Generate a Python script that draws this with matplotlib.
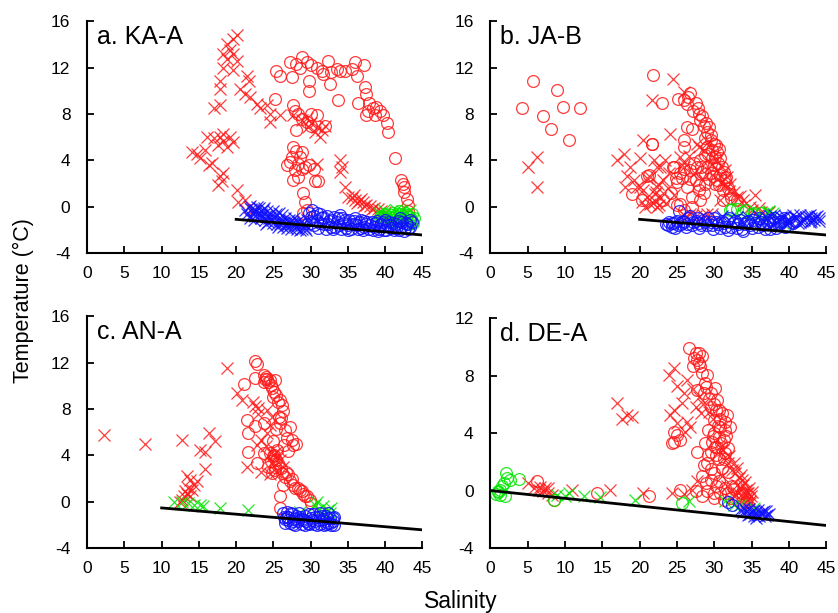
import numpy as np
import matplotlib.pyplot as plt

plt.rcParams['font.family'] = ['Liberation Sans', 'DejaVu Sans']
plt.rcParams['axes.unicode_minus'] = False

# (salinity, temperature) pairs per station and sample type
a_red_o = [(25.4, 11.75), (25.9, 11.3), (25.2, 9.3), (27.2, 12.5), (27.5, 11.2), (28.1, 12.3),
           (28.6, 12.0), (28.8, 12.9), (29.5, 12.5), (30.1, 12.2), (29.8, 10.9), (29.8, 10.0),
           (30.8, 12.0), (31.5, 11.75), (31.7, 11.5), (32.4, 12.6), (32.8, 11.6), (32.6, 10.6),
           (33.5, 11.9), (33.9, 11.75), (34.6, 11.75), (35.5, 11.9), (35.9, 12.5), (36.2, 11.3),
           (37.1, 12.2), (33.7, 9.2), (36.4, 9.0), (37.3, 10.3), (37.5, 9.75), (37.9, 9.0),
           (38.4, 8.5), (37.7, 8.3), (38.8, 8.6), (39.3, 8.3), (39.7, 7.9), (37.5, 7.9),
           (40.2, 7.2), (40.4, 6.45), (38.6, 7.9), (41.3, 4.2), (42.2, 2.3), (42.4, 2.0),
           (42.6, 1.3), (42.9, 0.7), (43.1, 0.15), (43.1, -0.4), (42.6, 1.7),
           (27.7, 8.75), (27.9, 8.3), (28.3, 8.0), (28.8, 7.6), (28.1, 6.6), (29.5, 7.3),
           (30.1, 8.0), (30.8, 7.9), (31.9, 7.0), (30.1, 7.0),
           (26.8, 3.6), (27.5, 4.3), (27.7, 5.2), (28.1, 4.8), (28.6, 4.3), (27.9, 3.2),
           (28.3, 3.7), (28.8, 3.3), (28.3, 2.6), (27.7, 2.3), (29.2, 3.4), (29.8, 3.6),
           (30.6, 2.2), (31.0, 2.2), (30.4, 3.3), (28.8, 4.7), (27.2, 3.9), (29.0, 1.2),
           (29.2, 0.45), (29.0, -0.55), (29.5, -0.3)]
a_red_x = [(20.1, 14.8), (19.6, 14.5), (18.75, 14.05), (19.2, 13.5), (18.3, 13.2), (19.6, 13.2),
           (18.75, 12.8), (20.1, 12.6), (18.3, 12.0), (19.6, 11.8), (21.4, 11.3), (21.7, 10.9),
           (17.9, 10.9), (17.9, 10.2), (20.5, 10.2), (21.2, 9.75), (21.9, 9.5), (22.8, 8.9),
           (23.2, 8.5), (24.1, 8.8), (24.6, 8.0), (25.9, 7.9), (24.6, 7.3), (17.0, 8.5),
           (17.9, 8.8), (16.1, 6.0), (17.0, 5.9), (17.9, 6.0), (18.3, 5.7), (18.75, 5.2),
           (19.6, 5.6), (17.6, 5.3), (19.2, 6.0), (18.3, 6.3), (14.1, 4.7), (14.7, 4.6),
           (15.2, 4.2), (15.8, 4.9), (16.3, 3.6), (16.7, 3.75), (17.9, 2.7), (18.1, 2.2),
           (17.6, 1.9), (18.3, 2.9), (20.1, 1.45), (20.3, 0.45), (21.2, 0.6), (21.7, 0.0),
           (22.3, -0.3), (27.7, 7.9), (28.8, 7.5), (29.5, 7.7), (30.1, 7.2), (30.8, 6.9),
           (31.5, 6.6), (31.25, 6.0), (31.9, 7.0), (29.7, 6.9), (30.6, 6.5), (30.8, 3.7),
           (33.9, 4.0), (34.2, 3.45), (33.9, 3.0), (34.6, 1.7), (35.0, 0.87), (35.5, 0.8),
           (35.8, 1.0), (36.0, 0.6), (36.2, 0.3), (36.5, 0.5), (36.8, 0.7), (37.0, 0.4),
           (37.2, 0.1), (37.5, 0.2), (38.0, 0.1), (38.2, -0.2), (38.5, -0.1), (39.0, -0.2),
           (39.5, -0.35), (40.0, -0.45)]
a_green_o = [(39.5, -0.8), (40.0, -0.6), (40.5, -0.9), (41.0, -0.5), (41.5, -0.8), (42.0, -0.6),
             (42.5, -1.0), (43.0, -0.7), (43.5, -1.1), (43.8, -1.4), (40.2, -1.2), (41.2, -1.1),
             (42.2, -1.3), (43.2, -1.5), (39.8, -1.0), (41.8, -0.4), (43.6, -0.6), (39.3, -0.9),
             (40.8, -0.7), (41.6, -1.2), (42.4, -0.8), (43.4, -0.9), (43.9, -1.0), (40.9, -1.3),
             (42.7, -0.5)]
a_green_x = [(39.2, -0.5), (39.8, -0.3), (40.6, -0.5), (41.4, -0.3), (42.3, -0.4), (40.3, -0.8),
             (41.8, -0.9), (42.8, -1.2), (43.3, -0.3), (40.0, -0.9), (41.0, -1.0), (42.0, -0.8),
             (43.0, -1.0)]
a_blue_o = [(29.8, -0.5), (30.2, -0.3), (30.5, -0.8), (30.8, -1.2), (31.2, -0.6), (31.5, -1.0),
            (31.8, -1.5), (32.2, -0.8), (32.5, -1.2), (32.8, -1.7), (33.2, -0.9), (33.5, -1.3),
            (33.8, -1.6), (34.2, -1.0), (34.5, -1.4), (34.8, -1.8), (35.2, -1.1), (35.5, -1.5),
            (35.8, -1.2), (36.2, -1.6), (36.5, -1.3), (36.8, -1.8), (37.2, -1.2), (37.5, -1.5),
            (37.8, -1.9), (38.2, -1.3), (38.5, -1.7), (38.8, -1.4), (39.2, -1.9), (39.5, -1.5),
            (39.8, -2.0), (40.2, -1.6), (40.5, -1.3), (40.8, -1.8), (41.2, -2.0), (41.5, -1.5),
            (41.8, -1.2), (42.2, -1.7), (42.5, -2.1), (42.8, -1.4), (43.1, -1.9), (43.3, -1.1),
            (31.0, -1.8), (30.0, -1.4), (33.0, -1.9), (35.0, -2.0), (37.0, -2.0), (39.0, -2.1),
            (40.0, -1.1), (42.0, -1.0), (36.0, -1.0), (34.0, -0.7), (30.0, -0.9), (30.4, -1.6),
            (30.9, -0.5), (31.3, -1.4), (31.7, -0.9), (32.0, -1.9), (32.4, -1.5), (32.9, -1.1),
            (33.3, -1.7), (33.7, -1.0), (34.1, -1.9), (34.6, -1.1), (35.0, -1.6), (35.4, -1.9),
            (35.9, -1.5), (36.3, -1.9), (36.7, -1.1), (37.1, -1.7), (37.6, -1.3), (38.0, -1.6),
            (38.4, -2.0), (38.9, -1.2), (39.3, -1.6), (39.7, -1.3), (40.1, -2.0), (40.6, -1.6),
            (41.0, -1.4), (41.4, -1.8), (41.9, -2.0), (42.3, -1.3), (42.7, -1.8), (43.0, -1.5),
            (43.4, -1.7), (43.6, -1.3)]
a_blue_x = [(21.5, -0.6), (22.0, -0.2), (22.5, -0.8), (22.8, 0.0), (23.0, -0.5), (23.3, -1.0),
            (23.6, -0.3), (24.0, -0.8), (24.3, -1.3), (24.5, -0.6), (24.8, -1.1), (25.2, -0.9),
            (25.5, -1.5), (25.8, -0.5), (26.0, -1.2), (26.3, -1.7), (26.6, -1.0), (27.0, -1.5),
            (27.3, -1.9), (27.6, -1.3), (28.0, -1.7), (28.3, -1.2), (28.6, -2.0), (29.0, -1.5),
            (29.3, -1.8), (29.5, -1.1), (22.2, -0.5), (23.8, -0.1), (25.0, -0.4), (26.8, -1.8),
            (27.8, -1.0), (28.8, -1.9), (21.8, -1.0), (24.0, -1.5), (25.6, -1.7), (21.2, -0.3),
            (21.9, 0.1), (22.4, -1.1), (22.7, -0.4), (23.1, -0.1), (23.5, -0.7), (23.9, -1.1),
            (24.2, -0.4), (24.6, -0.9), (24.9, -1.4), (25.3, -0.6), (25.7, -1.1), (26.1, -0.7),
            (26.4, -1.3), (26.7, -1.6), (27.1, -1.1), (27.4, -1.6), (27.9, -1.4), (28.2, -1.9),
            (28.5, -1.5), (28.9, -1.2), (29.2, -1.6), (29.4, -2.0), (27.2, -1.3), (25.9, -1.5),
            (24.4, -1.0), (23.4, -0.6), (22.6, -0.3)]

b_red_o = [(5.7, 10.9), (8.9, 10.1), (4.3, 8.5), (7.1, 7.8), (9.7, 8.6), (12.05, 8.5),
           (8.2, 6.75), (10.6, 5.75), (21.8, 11.4), (23.0, 8.96), (25.2, 9.3), (25.9, 9.2),
           (26.8, 9.8), (26.3, 8.9), (27.2, 8.3), (27.9, 8.0), (28.1, 7.5), (26.3, 6.9),
           (27.0, 6.75), (28.6, 7.0), (29.0, 6.45), (28.8, 5.9), (29.5, 5.75), (29.9, 5.45),
           (25.9, 5.75), (25.9, 5.2), (29.0, 5.2), (29.7, 4.9), (30.4, 4.7), (28.8, 4.45),
           (30.1, 4.3), (30.8, 4.2), (28.1, 4.0), (27.7, 3.45), (29.0, 3.45), (29.9, 3.6),
           (31.0, 3.45), (26.8, 3.15), (28.35, 3.0), (29.5, 2.9), (30.8, 2.75), (25.4, 2.9),
           (24.5, 3.45), (25.7, 2.45), (27.5, 2.3), (28.8, 2.0), (30.1, 2.0), (31.5, 2.3),
           (26.3, 1.7), (27.9, 1.45), (31.2, 1.45), (32.1, 1.15), (27.0, 0.86), (28.1, 0.57),
           (25.4, 0.28), (27.0, 0.0), (31.2, 0.57), (33.0, 0.57), (25.9, -0.3), (21.0, 2.7),
           (21.65, 5.45), (21.2, 2.75), (19.0, 1.15), (20.3, 0.6), (23.2, 0.6), (24.55, 3.45),
           (25.0, 2.15), (21.7, 5.45), (26.5, 9.5), (27.5, 9.0), (27.8, 8.5), (28.4, 7.8),
           (28.9, 7.2), (29.3, 6.9), (29.6, 6.2), (30.3, 5.3), (30.6, 5.0), (29.2, 4.6),
           (29.7, 4.2), (30.5, 3.8), (31.3, 3.0), (31.6, 2.6), (28.2, 3.4), (28.7, 2.8),
           (29.3, 2.4), (29.8, 2.7), (30.4, 2.3), (27.3, 3.8), (26.8, 2.4), (28.0, 1.9),
           (28.6, 1.2), (30.6, 1.9), (31.8, 1.6), (32.3, 0.8), (26.0, 3.3), (24.9, 2.5),
           (24.2, 1.2), (25.0, 0.2)]
b_red_x = [(5.1, 3.45), (6.25, 4.3), (6.2, 1.7), (21.65, 9.25), (20.5, 5.75), (17.9, 4.6),
           (17.0, 4.0), (20.1, 4.2), (18.75, 3.45), (18.3, 2.7), (19.2, 2.3), (18.1, 1.7),
           (19.6, 1.7), (20.5, 1.45), (21.0, 0.86), (20.3, 0.43), (21.4, 0.28), (22.3, 0.0),
           (20.75, 0.0), (21.9, 4.0), (22.3, 3.45), (21.4, 2.6), (22.1, 1.15), (22.5, 2.0),
           (24.5, 11.05), (25.9, 9.9), (24.1, 6.3), (22.8, 3.45), (23.4, 4.0), (21.0, 2.45),
           (22.3, 1.7), (23.2, 2.3), (25.4, 4.3), (25.9, 3.45), (27.7, 5.45), (28.6, 4.9),
           (29.7, 3.7), (30.4, 3.15), (31.5, 3.15), (31.7, 2.6), (32.1, 2.0), (32.6, 1.3),
           (33.0, 0.86), (35.5, 1.0), (33.9, 0.57), (34.8, 0.0), (36.2, -0.43), (37.3, -0.43),
           (25.9, -0.7), (26.8, -0.6), (29.0, -0.6), (29.7, -0.6), (30.8, 0.57), (20.1, 1.7),
           (22.0, 0.5), (22.6, 0.2), (23.5, 0.3), (26.0, 3.8), (26.6, 4.4), (27.2, 2.8),
           (28.0, 5.2), (29.2, 5.6), (30.2, 4.0), (30.9, 2.1), (31.4, 1.9), (32.0, 1.4),
           (33.4, 0.9), (34.0, 0.2), (35.0, -0.3), (36.0, -0.1), (24.0, 2.9), (23.8, 1.6),
           (22.8, 0.8), (21.8, 0.3), (22.2, 1.3), (24.6, 1.0), (26.2, -0.9), (27.5, -0.8),
           (28.5, -0.7)]
b_green_o = [(32.4, -0.2), (33.0, -0.2), (34.2, -0.3), (35.3, -0.55), (36.2, -0.55), (32.1, -0.3),
             (33.9, -0.43), (35.0, -0.6)]
b_green_x = [(37.9, -0.55), (37.3, -0.4), (37.1, -0.43), (39.3, -1.45)]
b_blue_o = [(23.5, -1.5), (24.0, -1.3), (24.3, -1.7), (24.6, -1.4), (25.0, -1.2), (25.3, -0.4),
            (25.5, -1.5), (26.0, -1.3), (26.5, -1.0), (26.8, -0.8), (27.0, -1.6), (27.5, -1.2),
            (28.0, -1.4), (28.5, -1.1), (29.0, -1.6), (29.5, -1.3), (30.0, -1.0), (30.5, -1.5),
            (31.0, -1.2), (31.5, -1.7), (32.0, -1.0), (32.5, -1.4), (33.0, -1.8), (33.5, -1.1),
            (34.0, -1.5), (34.5, -1.2), (35.0, -1.8), (35.5, -1.4), (36.0, -1.0), (36.5, -1.6),
            (37.0, -1.3), (37.5, -1.9), (38.0, -1.0), (38.5, -1.5), (39.0, -1.2), (39.5, -1.7),
            (40.0, -1.0), (40.5, -1.4), (41.0, -1.2), (29.8, -1.9), (31.8, -2.0), (33.8, -2.1),
            (28.0, -1.8), (26.2, -1.7), (24.8, -1.8), (23.8, -1.6), (24.4, -1.4), (25.2, -1.6),
            (25.8, -1.2), (26.4, -1.5), (27.2, -1.3), (27.8, -1.0), (28.2, -1.6), (28.8, -1.3),
            (29.2, -1.0), (29.7, -1.6), (30.2, -1.3), (30.8, -1.8), (31.3, -1.4), (31.7, -1.1),
            (32.2, -1.7), (32.8, -1.2), (33.2, -1.5), (33.7, -1.9), (34.3, -1.3), (34.8, -1.6),
            (35.2, -1.1), (35.8, -1.7), (36.3, -1.3), (36.8, -1.9), (37.3, -1.1), (37.8, -1.4),
            (38.3, -1.8), (38.8, -1.3), (39.3, -1.0)]
b_blue_x = [(36.0, -0.8), (37.0, -1.0), (38.0, -0.7), (38.8, -1.1), (39.5, -0.8), (40.2, -1.2),
            (40.8, -0.9), (41.5, -0.7), (42.0, -1.1), (42.5, -0.8), (43.0, -1.2), (43.5, -0.9),
            (44.0, -1.0), (41.2, -1.4), (42.8, -1.3), (39.8, -1.5), (37.8, -1.6), (34.5, -0.9),
            (33.0, -0.9), (31.0, -0.8), (35.5, -1.1), (36.5, -1.2), (37.5, -0.8), (38.3, -1.3),
            (39.0, -0.9), (39.8, -1.1), (40.5, -0.7), (41.0, -1.0), (41.8, -1.2), (42.3, -0.9),
            (42.8, -0.7), (43.3, -1.1), (43.8, -0.8), (40.0, -1.4), (41.5, -1.3), (43.0, -1.0),
            (44.0, -1.2)]

c_red_o = [(22.5, 12.15), (22.8, 11.9), (21.0, 10.2), (22.5, 10.7), (23.7, 10.9), (24.1, 10.6),
           (24.55, 10.5), (23.7, 10.35), (25.2, 10.5), (24.8, 9.8), (25.4, 9.2), (25.9, 8.8),
           (26.1, 8.35), (25.0, 9.05), (21.4, 7.05), (21.65, 5.9), (22.5, 6.5), (23.7, 6.75),
           (25.7, 7.35), (25.9, 6.75), (26.6, 6.2), (26.8, 5.5), (27.2, 6.45), (27.5, 5.3),
           (27.7, 4.9), (28.1, 5.0), (21.65, 4.3), (22.8, 3.3), (23.7, 4.2), (24.3, 3.0),
           (24.8, 2.45), (25.2, 3.0), (26.1, 2.45), (26.5, 2.15), (26.3, 1.45), (25.9, 0.45),
           (25.9, -0.55), (25.0, 3.9), (24.55, 4.2), (25.4, 3.6), (27.2, 1.75), (27.9, 1.15),
           (28.6, 1.0), (29.0, 0.7), (29.5, 0.45), (29.9, 0.15), (30.1, -0.15), (27.7, 1.45),
           (24.0, 10.8), (24.3, 10.3), (23.9, 10.6), (24.7, 10.1), (25.1, 9.5), (25.6, 8.6),
           (26.3, 7.8), (26.0, 7.2), (25.3, 6.3), (24.9, 5.2), (25.5, 4.5), (25.1, 4.0),
           (24.7, 3.5), (25.6, 3.3), (26.0, 2.9), (26.7, 2.6), (27.0, 2.4), (27.5, 2.0),
           (28.3, 1.2), (28.8, 0.9), (29.3, 0.5), (26.9, 4.4), (26.4, 4.9), (25.2, 2.7)]
c_red_x = [(2.3, 5.75), (7.8, 4.95), (12.7, 5.3), (18.75, 11.5), (16.3, 5.9), (17.2, 5.2),
           (15.2, 4.45), (15.85, 4.3), (15.8, 2.8), (13.4, 2.2), (13.8, 1.9), (14.3, 1.45),
           (14.1, 1.0), (13.4, 0.7), (12.95, 0.45), (12.7, 0.15), (13.6, 1.15), (13.2, 0.9),
           (14.7, 1.75), (13.8, 0.45), (12.5, 0.0), (21.4, 3.0), (20.1, 9.35), (20.8, 8.8),
           (22.3, 8.6), (23.0, 8.05), (24.1, 7.9), (23.4, 5.3), (22.8, 4.9), (24.1, 5.9),
           (24.3, 3.9), (23.4, 2.6), (25.9, 3.6), (25.4, 4.3), (24.8, 7.3), (26.3, 3.0),
           (22.5, 8.3), (22.9, 7.6), (24.5, 6.6), (24.0, 4.8), (25.0, 3.4), (25.3, 2.6),
           (24.5, 2.4), (24.9, 4.0), (25.5, 3.9)]
c_green_x = [(11.6, 0.0), (12.7, 0.0), (13.6, -0.15), (14.3, -0.3), (15.2, -0.3), (15.5, -0.4),
             (17.9, -0.55), (21.65, -0.7), (28.6, -0.85), (30.6, -0.3), (31.0, -0.7), (31.5, -1.0),
             (32.4, -0.7), (32.6, -1.0), (30.8, 0.0), (31.7, -0.4), (32.8, -0.55)]
c_blue_o = [(26.3, -1.0), (26.6, -1.5), (26.8, -0.9), (27.0, -1.3), (27.2, -1.8), (27.5, -1.1),
            (27.8, -1.5), (28.0, -1.2), (28.3, -1.7), (28.6, -1.3), (29.0, -1.6), (29.3, -1.2),
            (29.6, -1.8), (30.0, -1.4), (30.3, -1.1), (30.6, -1.7), (31.0, -1.3), (31.3, -1.9),
            (31.6, -1.5), (32.0, -1.2), (32.3, -1.8), (32.6, -1.4), (33.0, -1.7), (33.2, -1.3),
            (32.8, -2.0), (31.8, -2.0), (30.8, -2.0), (29.8, -1.9), (28.8, -1.9), (27.6, -1.9),
            (26.5, -1.8), (31.2, -1.0), (32.4, -1.0), (26.4, -1.3), (26.9, -1.6), (27.3, -1.0),
            (27.7, -1.7), (28.1, -1.4), (28.5, -1.0), (28.9, -1.5), (29.4, -1.7), (29.8, -1.1),
            (30.2, -1.6), (30.6, -1.3), (31.1, -1.6), (31.5, -1.2), (31.9, -1.7), (32.2, -1.4),
            (32.6, -1.8), (33.0, -1.4), (33.1, -2.0), (32.0, -1.9), (30.4, -1.9), (29.2, -2.0),
            (27.9, -2.0), (26.8, -1.3)]

d_red_o = [(6.25, 0.65), (8.5, -0.65), (14.3, -0.2), (21.2, -0.4), (25.4, 0.05),
           (26.6, 9.9), (27.5, 9.55), (27.7, 9.1), (28.1, 8.65), (27.2, 8.65), (27.9, 8.9),
           (28.4, 9.35), (29.0, 8.05), (28.8, 7.5), (27.7, 7.0), (28.6, 6.8), (29.5, 6.8),
           (30.1, 7.15), (30.4, 6.3), (29.5, 5.85), (30.6, 5.6), (31.0, 5.4), (31.7, 5.25),
           (31.5, 4.8), (32.1, 4.45), (30.0, 4.9), (29.2, 4.2), (30.0, 4.0), (30.6, 3.75),
           (31.25, 3.5), (29.7, 3.4), (28.8, 3.3), (30.4, 3.05), (31.9, 2.95), (29.5, 2.7),
           (27.7, 2.7), (29.0, 1.9), (28.6, 1.8), (29.9, 1.2), (29.5, 0.75), (30.6, 0.65),
           (28.3, 1.0), (29.0, -0.05), (29.9, -0.2), (30.8, -0.2), (31.9, -0.2), (31.25, -0.65),
           (28.3, -0.4), (27.5, -0.05), (25.0, 3.9), (25.4, 3.55), (24.3, 3.3), (24.55, 4.1),
           (24.55, 3.4), (30.8, 4.4), (31.3, 2.2), (30.2, 2.5), (32.4, 0.3), (31.0, 1.6),
           (27.3, 9.2), (28.0, 9.6), (28.3, 8.2), (28.9, 7.2), (29.3, 6.4), (29.9, 6.0),
           (30.3, 5.6), (30.8, 5.0), (31.4, 4.2), (30.5, 4.5), (29.8, 3.8), (30.9, 3.3),
           (31.6, 3.8), (31.5, 2.6), (30.1, 3.0), (29.2, 2.5), (30.7, 2.2), (31.8, 1.3),
           (30.3, 0.3), (31.5, 0.2), (32.2, -0.5), (32.7, 0.1), (33.2, -0.6), (33.7, -0.2),
           (34.3, -0.8), (29.6, 1.5), (28.9, 0.5), (30.0, -0.5)]
d_red_x = [(5.1, 0.5), (5.8, 0.15), (6.5, 0.05), (7.1, -0.05), (7.8, -0.2), (8.3, -0.3),
           (6.7, 0.25), (7.4, 0.15), (10.9, 0.05), (16.1, 0.05), (20.5, -0.15), (24.3, -0.15),
           (25.9, -0.25), (7.8, 0.15), (17.0, 6.1), (17.6, 5.0), (18.3, 5.25), (19.0, 5.15),
           (23.9, 8.05), (24.55, 8.5), (25.0, 7.25), (25.9, 6.8), (24.1, 5.25), (24.55, 5.6),
           (25.0, 4.7), (25.7, 6.1), (26.3, 4.8), (26.8, 4.45), (26.3, 7.7), (27.2, 7.1),
           (26.1, 4.1), (30.8, 3.05), (31.5, 2.35), (31.9, 1.9), (32.4, 1.45), (32.8, 1.2),
           (33.3, 0.85), (33.7, 0.75), (33.9, 0.4), (33.0, 0.4), (33.5, 0.15), (34.2, 0.05),
           (34.4, -0.2), (33.9, -0.4), (34.6, -0.55), (34.8, -0.75), (32.6, -0.4), (31.7, 0.3),
           (31.0, 1.0), (27.7, 0.65), (27.0, 0.05), (34.5, -0.2), (34.9, -0.4), (33.2, -0.2),
           (28.0, 6.5), (28.5, 6.0), (29.3, 5.5), (29.8, 5.0), (27.5, 5.8), (28.2, 5.4),
           (31.2, 2.8), (32.0, 2.4), (32.6, 1.9), (33.1, 1.6), (33.6, 1.1), (34.1, 0.6),
           (34.6, 0.2), (34.8, -0.9), (34.2, -0.8), (33.7, -0.7), (35.0, -0.1), (33.9, -0.2)]
d_green_o = [(1.0, -0.1), (1.3, 0.05), (1.8, 0.5), (2.1, 1.2), (2.3, 0.85), (1.6, 0.3),
             (1.3, -0.3), (0.8, -0.25), (2.7, 0.75), (3.8, 0.8), (2.0, -0.4), (8.6, -0.65),
             (25.7, -0.9), (1.1, 0.0)]
d_green_x = [(8.9, -0.3), (10.0, -0.4), (10.5, -0.2), (12.5, -0.4), (14.7, -0.45), (19.4, -0.65),
             (26.6, -0.75), (31.5, -0.75), (32.6, -1.0), (33.5, -1.0), (35.3, -1.2)]
d_blue_o = [(31.9, -0.8), (32.4, -1.0)]
d_blue_x = [(33.5, -1.35), (34.2, -1.45), (34.8, -1.6), (35.3, -1.35), (35.7, -1.7), (36.2, -1.6),
            (36.8, -1.8), (37.3, -1.6), (35.3, -1.8), (34.6, -1.25), (35.9, -1.35), (36.6, -1.45),
            (33.8, -1.5), (34.5, -1.7), (35.0, -1.5), (35.5, -1.55), (36.0, -1.75), (36.4, -1.5),
            (37.0, -1.7), (36.9, -1.4), (34.0, -1.2), (35.6, -1.9)]

# freezing-point line, start/end salinity
freeze_start = [20, 20, 10, 0]
freeze_end = 45

titles = ['a. KA-A', 'b. JA-B', 'c. AN-A', 'd. DE-A']
ylims = [(-4, 16), (-4, 16), (-4, 16), (-4, 12)]

panels = [
    dict(red_o=a_red_o, red_x=a_red_x, green_o=a_green_o, green_x=a_green_x, blue_o=a_blue_o, blue_x=a_blue_x),
    dict(red_o=b_red_o, red_x=b_red_x, green_o=b_green_o, green_x=b_green_x, blue_o=b_blue_o, blue_x=b_blue_x),
    dict(red_o=c_red_o, red_x=c_red_x, green_o=[], green_x=c_green_x, blue_o=c_blue_o, blue_x=[]),
    dict(red_o=d_red_o, red_x=d_red_x, green_o=d_green_o, green_x=d_green_x, blue_o=d_blue_o, blue_x=d_blue_x),
]

colors = {'red': '#ff1a1a', 'green': '#00e600', 'blue': '#1010ff'}

fig = plt.figure(figsize=(8.38, 6.13), dpi=100)
boxes = [(0.104, 0.587, 0.400, 0.378), (0.585, 0.587, 0.401, 0.378),
         (0.104, 0.106, 0.400, 0.378), (0.585, 0.106, 0.401, 0.375)]

for i, box in enumerate(boxes):
    ax = fig.add_axes(box)
    p = panels[i]
    for col in ['red', 'green', 'blue']:
        for kind, mk in [('o', 'o'), ('x', 'x')]:
            pts = p[col + '_' + kind]
            if not pts:
                continue
            arr = np.array(pts)
            ax.plot(arr[:, 0], arr[:, 1], linestyle='none', marker=mk, markersize=8.5,
                    markerfacecolor='none', markeredgecolor=colors[col],
                    markeredgewidth=0.9, alpha=0.85)
    s0 = freeze_start[i]
    ax.plot([s0, freeze_end], [-0.054 * s0, -0.054 * freeze_end], color='black', lw=2)

    ax.set_xlim(0, 45)
    ax.set_ylim(*ylims[i])
    ax.set_xticks(np.arange(0, 46, 5))
    ax.set_yticks(np.arange(ylims[i][0], ylims[i][1] + 1, 4))
    for side in ['top', 'right']:
        ax.spines[side].set_visible(False)
    for side in ['left', 'bottom']:
        ax.spines[side].set_linewidth(1.5)
    ax.tick_params(direction='in', length=5, width=1.3, labelsize=12.5)
    ax.tick_params(axis='x', pad=9)
    ax.tick_params(axis='y', pad=12)
    ax.text(0.03, 0.985, titles[i], transform=ax.transAxes, fontsize=18, va='top', ha='left')

fig.text(0.028, 0.51, 'Temperature (°C)', rotation=90, fontsize=15.5, va='center', ha='center')
fig.text(0.55, 0.018, 'Salinity', fontsize=16.5, va='center', ha='center')

fig.savefig('out.png', dpi=100)
